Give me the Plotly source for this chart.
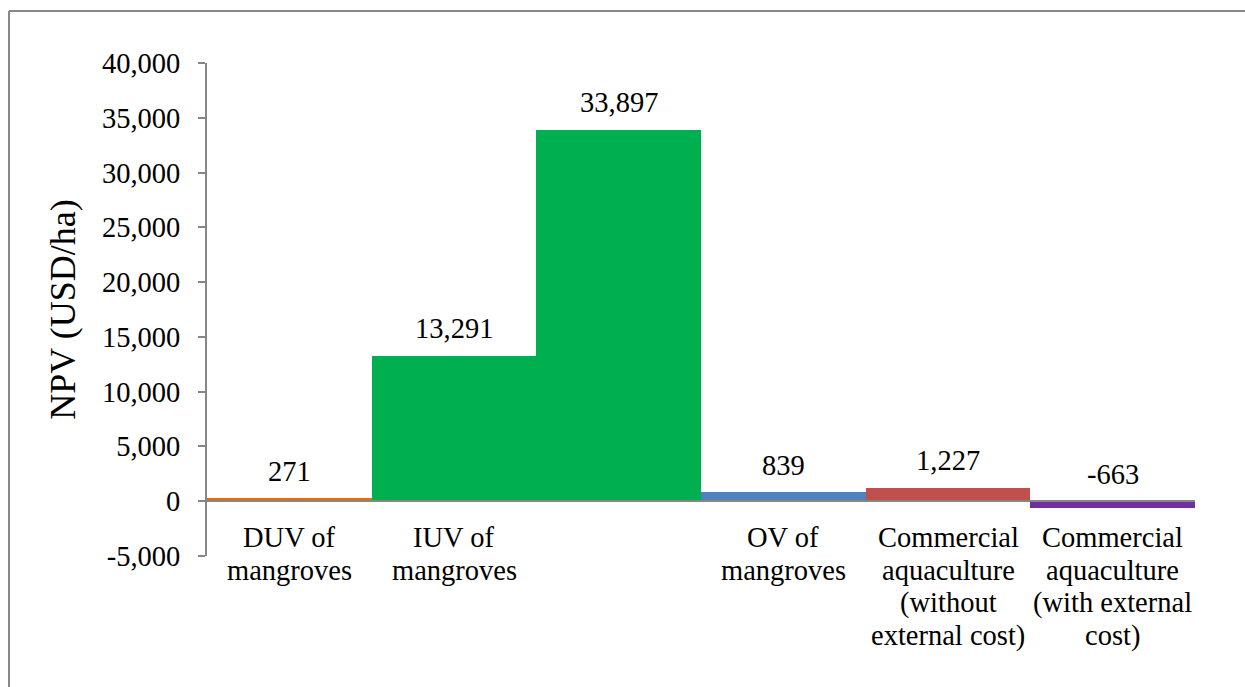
import plotly.graph_objects as go

# ---- data ----
categories = [
    ["DUV of", "mangroves"],
    ["IUV of", "mangroves"],
    [],
    ["OV of", "mangroves"],
    ["Commercial", "aquaculture", "(without", "external cost)"],
    ["Commercial", "aquaculture", "(with external", "cost)"],
]
values = [271, 13291, 33897, 839, 1227, -663]
bar_colors = ["#E46C0A", "#00B050", "#00B050", "#4F81BD", "#C0504D", "#7030A0"]
y_ticks = [-5000, 0, 5000, 10000, 15000, 20000, 25000, 30000, 35000, 40000]
y_ticktext = ["{:,}".format(v) for v in y_ticks]
y_title = "NPV (USD/ha)"

# ---- layout constants ----
W, H = 1245, 687
L, R, T, B = 207, 50, 63, 131
plot_w = W - L - R
plot_h = H - T - B
FONT = "Liberation Serif"
GRAY = "#868686"
FS = 28.5

x_idx = list(range(len(values)))

fig = go.Figure()
fig.add_trace(go.Bar(
    x=x_idx, y=values, width=1.0,
    marker=dict(color=bar_colors, line=dict(width=0)),
    hoverinfo="x+y",
))

y_min, y_max = -5000, 40000
zero_paper = (0 - y_min) / (y_max - y_min)

annotations = []
for i, v in enumerate(values):
    annotations.append(dict(
        x=i, y=max(v, 0), xref="x", yref="y",
        text="{:,}".format(v), showarrow=False,
        yanchor="middle", xanchor="center", yshift=27,
        font=dict(family=FONT, size=FS, color="#000000"),
    ))
for i, lines in enumerate(categories):
    for j, line in enumerate(lines):
        annotations.append(dict(
            x=i, y=0, xref="x", yref="y",
            text=line, showarrow=False,
            yanchor="middle", xanchor="center", yshift=-(36 + 33 * j),
            font=dict(family=FONT, size=FS, color="#000000"),
        ))

def px_to_paper_x(px):
    return (px - L) / plot_w

def px_to_paper_y(py):
    return (H - B - py) / plot_h

shapes = [
    dict(type="line", xref="paper", yref="paper",
         x0=px_to_paper_x(9), x1=px_to_paper_x(9),
         y0=px_to_paper_y(720), y1=px_to_paper_y(11),
         line=dict(color="#888888", width=2)),
    dict(type="line", xref="paper", yref="paper",
         x0=px_to_paper_x(9), x1=px_to_paper_x(1280),
         y0=px_to_paper_y(11), y1=px_to_paper_y(11),
         line=dict(color="#888888", width=2)),
]

fig.update_layout(
    width=W, height=H,
    margin=dict(l=L, r=R, t=T, b=B, pad=0),
    paper_bgcolor="white", plot_bgcolor="white",
    showlegend=False,
    bargap=0,
    font=dict(family=FONT, size=FS, color="#000000"),
    annotations=annotations,
    shapes=shapes,
    xaxis=dict(
        range=[-0.5, len(values) - 0.5],
        tickvals=x_idx, ticktext=[""] * len(values),
        showgrid=False, zeroline=False,
        showline=True, linecolor=GRAY, linewidth=2,
        ticks="", anchor="free", position=zero_paper,
        fixedrange=True,
    ),
    yaxis=dict(
        range=[y_min, y_max],
        tickvals=y_ticks, ticktext=y_ticktext,
        showgrid=False, zeroline=False,
        showline=True, linecolor=GRAY, linewidth=2,
        ticks="outside", ticklen=7, tickcolor=GRAY, tickwidth=2,
        ticklabelstandoff=12,
        tickfont=dict(family=FONT, size=FS, color="#000000"),
        title=dict(text=y_title, font=dict(family=FONT, size=36, color="#000000"),
                   standoff=15),
        fixedrange=True,
    ),
)

fig.write_html("out.html", config={"displayModeBar": False})
